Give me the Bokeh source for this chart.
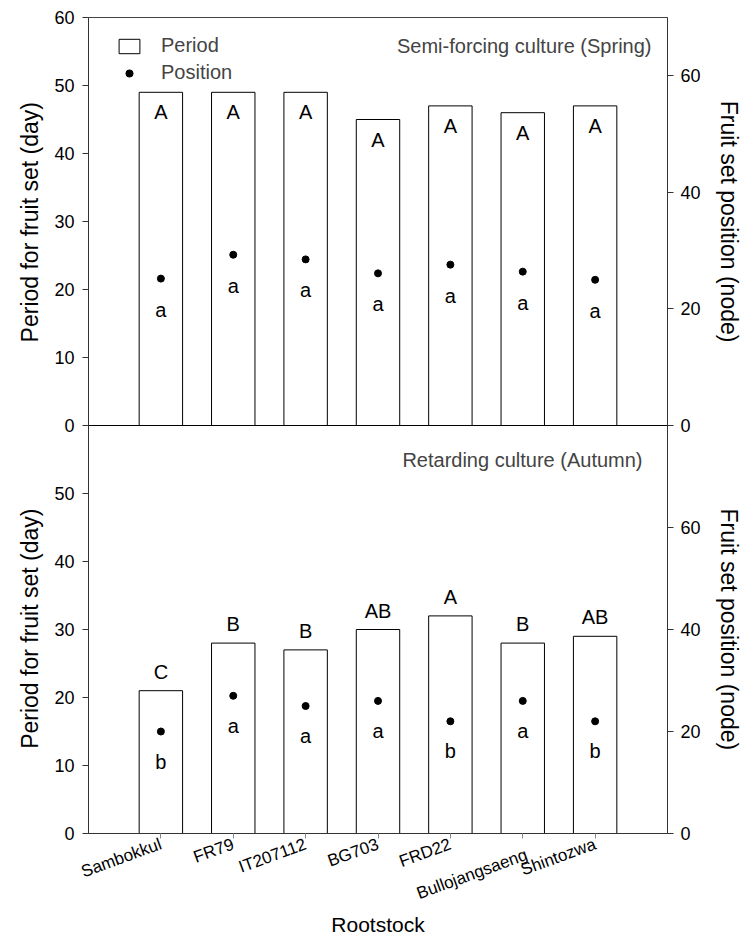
import math
from bokeh.plotting import figure
from bokeh.models import (Range1d, LinearAxis, FixedTicker, ColumnDataSource,
                          LabelSet, Label, Span, Legend, LegendItem)
from bokeh.core.properties import value
from bokeh.embed import file_html
from bokeh.resources import INLINE

# ---------------- data ----------------
rootstocks = ["Sambokkul", "FR79", "IT207112", "BG703", "FRD22",
              "Bullojangsaeng", "Shintozwa"]
x_pos = [1, 2, 3, 4, 5, 6, 7]

spring_period = [49, 49, 49, 45, 47, 46, 47]
spring_period_letters = ["A", "A", "A", "A", "A", "A", "A"]
spring_position = [25.2, 29.3, 28.5, 26.1, 27.6, 26.4, 25.0]
spring_position_letters = ["a", "a", "a", "a", "a", "a", "a"]

autumn_period = [21, 28, 27, 30, 32, 28, 29]
autumn_period_letters = ["C", "B", "B", "AB", "A", "B", "AB"]
autumn_position = [20, 27, 25, 26, 22, 26, 22]
autumn_position_letters = ["b", "a", "a", "a", "b", "a", "b"]

period_ticks = [0, 10, 20, 30, 40, 50, 60]
spring_position_ticks = [0, 20, 40, 60]
autumn_position_ticks = [0, 20, 40, 60]

PERIOD_MAX = 60
SPRING_POS_MAX = 70
AUTUMN_POS_MAX = 80
X_MAX = 8

FONT = "Liberation Sans"
NBSP_GAP = "\u00a0" * 26

# ---------------- figure ----------------
p = figure(frame_width=579, frame_height=816,
           x_range=Range1d(0, X_MAX), y_range=Range1d(0, 2 * PERIOD_MAX),
           output_backend="svg", toolbar_location=None,
           min_border_left=88, min_border_right=73,
           min_border_top=17, min_border_bottom=108)
p.extra_y_ranges = {
    "springL": Range1d(-PERIOD_MAX, PERIOD_MAX),
    "springR": Range1d(-SPRING_POS_MAX, SPRING_POS_MAX),
    "autumnR": Range1d(0, 2 * AUTUMN_POS_MAX),
}
p.grid.visible = False
p.outline_line_color = "#444444"
p.outline_line_width = 1
p.background_fill_color = "white"
p.border_fill_color = "white"

# ---------------- glyphs ----------------
spring_bars = p.vbar(x=x_pos, top=spring_period, bottom=0, width=0.6,
                     y_range_name="springL", fill_color="white",
                     line_color="black", line_width=1)
spring_dots = p.scatter(x=x_pos, y=spring_position, y_range_name="springR",
                        size=7, fill_color="black", line_color="black")
autumn_bars = p.vbar(x=x_pos, top=autumn_period, bottom=0, width=0.6,
                     fill_color="white", line_color="black", line_width=1)
autumn_dots = p.scatter(x=x_pos, y=autumn_position, y_range_name="autumnR",
                        size=7, fill_color="black", line_color="black")

p.add_layout(Span(location=PERIOD_MAX, dimension="width",
                  line_color="black", line_width=1))

# ---------------- letters ----------------
def labelset(xs, ys, texts, yoff, rng=None):
    src = ColumnDataSource(dict(x=xs, y=ys, t=texts))
    kw = {}
    if rng:
        kw["y_range_name"] = rng
    return LabelSet(x="x", y="y", text="t", source=src, y_offset=yoff,
                    text_align="center", text_baseline="middle",
                    text_font=value(FONT), text_font_size="20px",
                    text_color="black", **kw)

p.add_layout(labelset(x_pos, spring_period, spring_period_letters, -20, "springL"))
p.add_layout(labelset(x_pos, spring_position, spring_position_letters, -31, "springR"))
p.add_layout(labelset(x_pos, autumn_period, autumn_period_letters, 19))
p.add_layout(labelset(x_pos, autumn_position, autumn_position_letters, -30, "autumnR"))

# ---------------- axes ----------------
def style_axis(ax):
    ax.major_tick_in = 0
    ax.major_tick_out = 6
    ax.minor_tick_line_color = None
    ax.axis_line_color = "#333333"
    ax.major_tick_line_color = "#333333"
    ax.major_label_text_font = FONT
    ax.major_label_text_font_size = "18px"
    ax.major_label_text_color = "black"
    ax.axis_label_text_font = FONT
    ax.axis_label_text_font_size = "23px"
    ax.axis_label_text_font_style = "normal"
    ax.axis_label_text_color = "black"

# left axis: bottom panel (0..50) + top panel (offset by PERIOD_MAX)
yl = p.yaxis[0]
left_ticks = period_ticks[:-1] + [PERIOD_MAX + t for t in period_ticks]
yl.ticker = FixedTicker(ticks=left_ticks)
yl.major_label_overrides = {PERIOD_MAX + t: str(t) for t in period_ticks}
style_axis(yl)
yl.major_label_standoff = 8
yl.axis_label = "Period for fruit set (day)" + NBSP_GAP + "Period for fruit set (day)"
yl.axis_label_standoff = 8

# right axis on the autumn position range; spring ticks mapped into it
def spring_to_axis(v):
    return 2 * AUTUMN_POS_MAX * (v + SPRING_POS_MAX) / (2 * SPRING_POS_MAX)

yr = LinearAxis(y_range_name="autumnR")
right_ticks = list(autumn_position_ticks) + [spring_to_axis(v) for v in spring_position_ticks]
yr.ticker = FixedTicker(ticks=right_ticks)
yr.major_label_overrides = {spring_to_axis(v): str(v) for v in spring_position_ticks}
style_axis(yr)
yr.major_label_standoff = 7
yr.axis_label = "Fruit set position (node)" + NBSP_GAP + "Fruit set position (node)"
yr.axis_label_standoff = 12
p.add_layout(yr, "right")

# x axis
xa = p.xaxis[0]
xa.ticker = FixedTicker(ticks=x_pos)
xa.major_label_overrides = {x: ("\n" + name if name == "Bullojangsaeng" else name)
                            for x, name in zip(x_pos, rootstocks)}
xa.major_label_orientation = 0.35
xa.major_tick_in = 0
xa.major_tick_out = 5
xa.minor_tick_line_color = None
xa.axis_line_color = "#333333"
xa.major_tick_line_color = "#888888"
xa.major_label_text_font = FONT
xa.major_label_text_font_size = "17px"
xa.major_label_text_color = "black"
xa.axis_label = "Rootstock"
xa.axis_label_text_font = FONT
xa.axis_label_text_font_size = "21px"
xa.axis_label_text_font_style = "normal"
xa.axis_label_text_color = "black"
xa.axis_label_standoff = -13

# panel titles
p.add_layout(Label(x=X_MAX, y=2 * PERIOD_MAX, x_offset=-16, y_offset=-28,
                   text="Semi-forcing culture (Spring)", text_align="right",
                   text_baseline="middle", text_font=FONT, text_font_size="20px"))
p.add_layout(Label(x=X_MAX, y=PERIOD_MAX, x_offset=-25, y_offset=-34,
                   text="Retarding culture (Autumn)", text_align="right",
                   text_baseline="middle", text_font=FONT, text_font_size="20px"))

# legend
legend = Legend(items=[LegendItem(label="Period", renderers=[spring_bars]),
                       LegendItem(label="Position", renderers=[spring_dots])],
                location=(28, 749), padding=0, margin=0, spacing=4,
                glyph_width=26, glyph_height=18, label_height=18,
                label_standoff=19, label_text_font=FONT,
                label_text_font_size="20px", border_line_color=None,
                background_fill_alpha=0)
p.add_layout(legend)

open("out.html", "w").write(file_html(p, INLINE))
